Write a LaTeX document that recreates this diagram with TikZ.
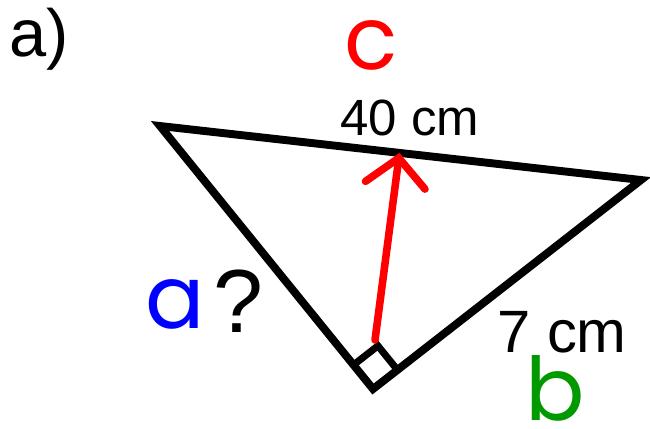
\documentclass[tikz,border=0pt]{standalone}
\usepackage{fontspec}
\setmainfont{Liberation Sans}
\newfontfamily\handfont{Poppins}
\usetikzlibrary{calc,positioning,arrows.meta}

\begin{document}
\begin{tikzpicture}[>={Straight Barb[length=5.5mm,width=12mm,line cap=round]},
    side/.style={line width=4.5pt},
    hand/.style={font=\handfont\fontsize{50}{50}\selectfont, inner sep=0pt},
    meas/.style={inner sep=0pt, anchor=base}]
    \useasboundingbox (0,0) rectangle (13,8.56);
    % corners of the triangle
    \coordinate (tl) at (3.2,6.04);
    \coordinate (rt) at (12.82,4.96);
    \coordinate (bot) at (7.46,0.78);
    \draw[side] (tl) -- (rt) -- (bot) -- cycle;
    % right angle mark
    \coordinate (sqa) at ($(bot)!0.62cm!(tl)$);
    \coordinate (sqb) at ($(bot)!0.62cm!(rt)$);
    \draw[line width=4pt] (sqa) -- ($(sqa)+(sqb)-(bot)$) -- (sqb);
    % height onto c
    \coordinate (foot) at ($(tl)!(bot)!(rt)$);
    \coordinate (tail) at (7.5,1.76);
    \draw[->, red, line width=4.3pt, line cap=round] (tail) -- (foot);
    % labels
    \node[anchor=base west, font=\fontsize{38}{38}\selectfont, inner sep=0pt]
        (part) at (0.18,7.44) {a)};
    \node[meas, font=\fontsize{29}{29}\selectfont] (len c) at (8.2,5.86) {40 cm};
    \node[meas, font=\fontsize{34}{34}\selectfont] (len b) at (11.24,1.52) {7 cm};
    \node[meas, font=\fontsize{51}{51}\selectfont] (len a) at (4.76,1.92) {?};
    \node[hand, text=red] (c) at (7.42,7.66) {c};
    \node[hand, text=blue] (a) at (3.5,2.48) {a};
    \node[hand, text={rgb,255:red,0;green,153;blue,0}] (b) at (11.1,0.8) {b};
\end{tikzpicture}
\end{document}
